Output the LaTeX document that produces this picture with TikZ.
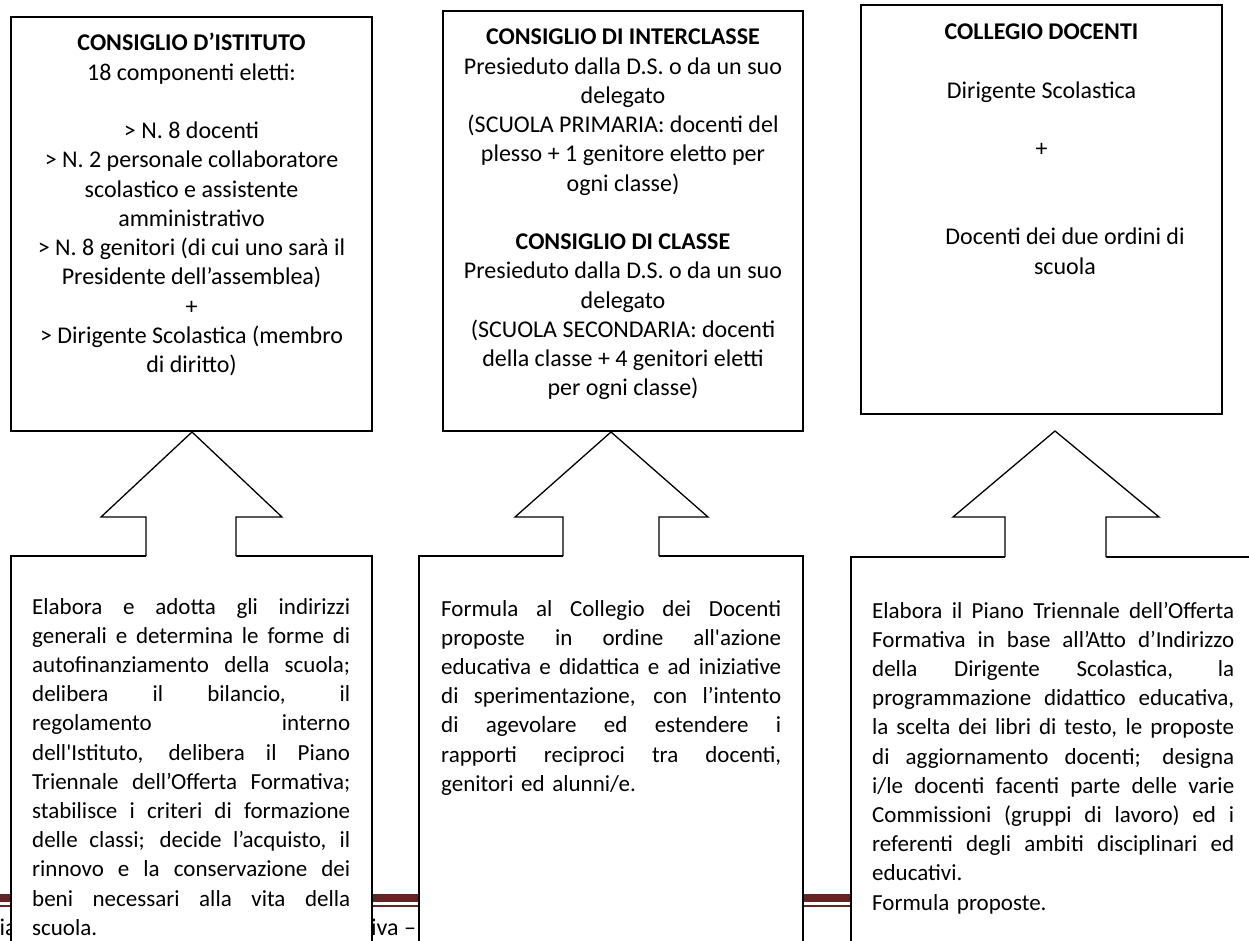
\documentclass[tikz,border=0pt]{standalone}
\usepackage{fontspec}
\setmainfont{Carlito}
\usetikzlibrary{calc}
\definecolor{footred}{HTML}{632423}
\tikzset{
  frame/.style={draw=black, fill=white, line width=1.3pt, inner sep=0pt, outer sep=0pt, anchor=north west},
  ctext/.style={align=center, inner sep=0pt, anchor=north, font=\fontsize{24}{29.25}\selectfont},
  jtext/.style={align=left, text width=#1, inner sep=0pt, anchor=north west, font=\fontsize{23}{29.2}\selectfont},
  foottext/.style={anchor=base west, inner sep=0pt, font=\fontsize{24}{29.25}\selectfont},
  arrowline/.style={draw=black, line width=1.3pt, line join=miter},
}
\newlength\jw
\newcommand\jl[1]{\leavevmode\hbox to \jw{\spaceskip=.226em plus 1fil\relax #1}}
\begin{document}
\begin{tikzpicture}[x=1pt,y=-1pt]
\useasboundingbox (0,0) rectangle (1249,941);
\clip (0,0) rectangle (1249,941);
% footer of the page behind
\fill[footred] (0,894) rectangle (1249,902);
\fill[footred] (0,904.5) rectangle (1249,906.5);
\node[foottext] (f1) at (-0.5,935) {ia};
\node[foottext] (f2) at (371,935) {iva –};
% boxes
\node[frame, minimum width=361pt, minimum height=414pt] (b1) at (11,17) {};
\node[frame, minimum width=360pt, minimum height=420pt] (b2) at (443,11) {};
\node[frame, minimum width=361pt, minimum height=409pt] (b3) at (861,5) {};
\node[frame, minimum width=361pt, minimum height=420pt] (l1) at (11,556) {};
\node[frame, minimum width=384pt, minimum height=420pt] (l2) at (419,556) {};
\node[frame, minimum width=420pt, minimum height=420pt] (l3) at (851,557) {};
% top texts
\node[ctext] (t1) at (191.5,30.2) {\strut\textbf{CONSIGLIO D’ISTITUTO}\\
18 componenti eletti:\\ \mbox{}\\
> N. 8 docenti\\
> N. 2 personale collaboratore\\
scolastico e assistente\\
amministrativo\\
> N. 8 genitori (di cui uno sarà il\\
Presidente dell’assemblea)\\
+\\
> Dirigente Scolastica (membro\\
di diritto)};
\node[ctext] (t2) at (623,24.2) {\strut\textbf{CONSIGLIO DI INTERCLASSE}\\
Presieduto dalla D.S. o da un suo\\
delegato\\
(SCUOLA PRIMARIA: docenti del\\
plesso + 1 genitore eletto per\\
ogni classe)\\ \mbox{}\\
\textbf{CONSIGLIO DI CLASSE}\\
Presieduto dalla D.S. o da un suo\\
delegato\\
(SCUOLA SECONDARIA: docenti\\
della classe + 4 genitori eletti\\
per ogni classe)};
\node[ctext] (t3) at (1041.5,19.2) {\strut\textbf{COLLEGIO DOCENTI}\\ \mbox{}\\
Dirigente Scolastica\\ \mbox{}\\
+};
\node[ctext] (t3b) at (1065,224.3) {\strut Docenti dei due ordini di\\ scuola};
% bottom texts
\setlength\jw{318pt}
\node[jtext=318pt] (d1) at (32,593.5) {\jl{\strut Elabora e adotta gli indirizzi}\\
\jl{generali e determina le forme di}\\
\jl{autofinanziamento della scuola;}\\
\jl{delibera il bilancio, il}\\
\jl{regolamento interno}\\
\jl{dell\textquotesingle Istituto, delibera il Piano}\\
\jl{Triennale dell’Offerta Formativa;}\\
\jl{stabilisce i criteri di formazione}\\
\jl{delle classi; decide l’acquisto, il}\\
\jl{rinnovo e la conservazione dei}\\
\jl{beni necessari alla vita della}\\
scuola.};
\setlength\jw{340pt}
\node[jtext=340pt] (d2) at (441,595.5) {\jl{\strut Formula al Collegio dei Docenti}\\
\jl{proposte in ordine all\textquotesingle azione}\\
\jl{educativa e didattica e ad iniziative}\\
\jl{di sperimentazione, con l’intento}\\
\jl{di agevolare ed estendere i}\\
\jl{rapporti reciproci tra docenti,}\\
genitori ed alunni/e.};
\setlength\jw{362pt}
\node[jtext=362pt] (d3) at (872,597.5) {\jl{\strut Elabora il Piano Triennale dell’Offerta}\\
\jl{Formativa in base all’Atto d’Indirizzo}\\
\jl{della Dirigente Scolastica, la}\\
\jl{programmazione didattico educativa,}\\
\jl{la scelta dei libri di testo, le proposte}\\
\jl{di aggiornamento docenti; designa}\\
\jl{i/le docenti facenti parte delle varie}\\
\jl{Commissioni (gruppi di lavoro) ed i}\\
\jl{referenti degli ambiti disciplinari ed}\\
educativi.\\
Formula proposte.};
% block arrows
\coordinate (a1) at (192,432);
\coordinate (a2) at (611,432);
\coordinate (a3) at (1055,431);
\fill[white] (a1) -- ++(-91,85) -- ++(45,0) -- ++(0,40) -- ++(90,0) -- ++(0,-40) -- ++(46,0) -- cycle;
\draw[arrowline] ($(a1)+(-46,124)$) -- ++(0,-39) -- ++(-45,0) -- (a1) -- ++(90,85) -- ++(-46,0) -- ++(0,39);
\fill[white] (a2) -- ++(-96,85) -- ++(48,0) -- ++(0,40) -- ++(96,0) -- ++(0,-40) -- ++(49,0) -- cycle;
\draw[arrowline] ($(a2)+(-48,124)$) -- ++(0,-39) -- ++(-48,0) -- (a2) -- ++(97,85) -- ++(-49,0) -- ++(0,39);
\fill[white] (a3) -- ++(-102,86) -- ++(52,0) -- ++(0,41) -- ++(101,0) -- ++(0,-41) -- ++(53,0) -- cycle;
\draw[arrowline] ($(a3)+(-50,126)$) -- ++(0,-40) -- ++(-52,0) -- (a3) -- ++(104,86) -- ++(-53,0) -- ++(0,40);
\end{tikzpicture}
\end{document}
